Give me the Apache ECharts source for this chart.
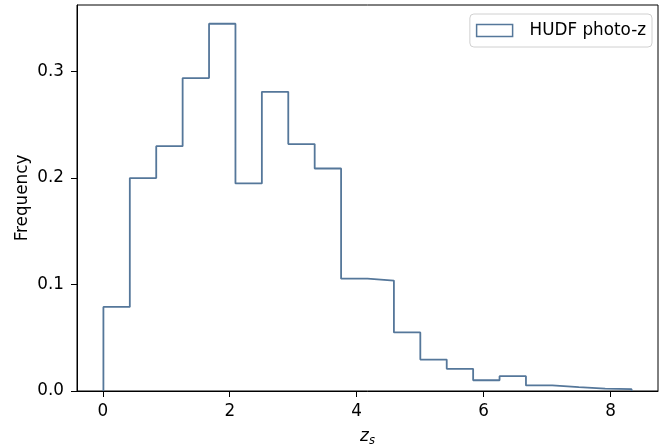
<!DOCTYPE html>
<html><head><meta charset="utf-8">
<script src="https://cdn.jsdelivr.net/npm/echarts@6/dist/echarts.min.js"></script>
<style>html,body{margin:0;padding:0;background:#fff}#c{width:672px;height:446px}</style>
</head><body><div id="c"></div>
<script>
// Histogram (density) of HUDF photo-z
const binStart = 0.01;
const binWidth = 0.416;
const heights = [0.079, 0.200, 0.230, 0.294, 0.345, 0.195, 0.281, 0.232, 0.209, 0.1055,
                 0.1037, 0.055, 0.0295, 0.0208, 0.0101, 0.0139, 0.0052, 0.0036, 0.0023, 0.0017];
const xTicks = [0, 2, 4, 6, 8];
const yTicks = [0, 0.1, 0.2, 0.3];
const seriesName = 'HUDF photo-z';

const edges = heights.map((_, i) => binStart + i * binWidth).concat([binStart + heights.length * binWidth]);
const pts = [[edges[0], 0]];
heights.forEach((h, i) => { pts.push([edges[i], h]); pts.push([edges[i + 1], h]); });
pts.push([edges[edges.length - 1], 0]);

const col = '#55779a';
const font = 'DejaVu Sans';
const fs = 16.8;
const chart = echarts.init(document.getElementById('c'));
chart.setOption({
  animation: false,
  grid: {left: 77, right: 14, top: 5, bottom: 55, show: true, borderColor: '#000', borderWidth: 1,
         containLabel: false, outerBoundsMode: 'none'},
  xAxis: {
    type: 'value', min: -0.406, max: 8.746,
    splitLine: {show: false},
    axisLine: {show: true, onZero: false, lineStyle: {color: '#000', width: 1}},
    axisTick: {show: true, customValues: xTicks, length: 6, lineStyle: {color: '#000'}},
    axisLabel: {customValues: xTicks, color: '#000', fontFamily: font, fontSize: fs, margin: 12},
    name: '{i|z}{s|s}', nameLocation: 'middle', nameGap: 35,
    nameTextStyle: {rich: {
      i: {fontFamily: font, fontStyle: 'italic', fontSize: fs, color: '#000'},
      s: {fontFamily: font, fontStyle: 'italic', fontSize: 11.5, color: '#000', verticalAlign: 'bottom', padding: [9, 0, 0, 0]}
    }}
  },
  yAxis: {
    type: 'value', min: 0, max: 0.3626,
    splitLine: {show: false},
    axisLine: {show: true, onZero: false, lineStyle: {color: '#000', width: 1}},
    axisTick: {show: true, customValues: yTicks, length: 6, lineStyle: {color: '#000'}},
    axisLabel: {customValues: yTicks, color: '#000', fontFamily: font, fontSize: fs, margin: 13,
      formatter: v => v.toFixed(1)},
    name: 'Frequency', nameLocation: 'middle', nameGap: 46, nameRotate: 90, nameMoveOverlap: false,
    nameTextStyle: {fontFamily: font, fontSize: fs, color: '#000'}
  },
  legend: {
    show: true, right: 20, top: 14, orient: 'vertical',
    backgroundColor: '#fff', borderColor: '#d0d0d0', borderWidth: 1, borderRadius: 4,
    padding: [8, 6, 8, 6],
    itemWidth: 36, itemHeight: 12, itemGap: 4,
    textStyle: {fontFamily: font, fontSize: fs, color: '#000', padding: [0, 0, 0, 12]},
    data: [{name: seriesName, icon: 'rect', itemStyle: {color: 'rgba(0,0,0,0)', borderColor: col, borderWidth: 1.5}}]
  },
  series: [{
    name: seriesName, type: 'line', data: pts, showSymbol: false, symbol: 'none',
    lineStyle: {color: col, width: 1.8}, itemStyle: {color: col}
  }]
});
</script></body></html>
